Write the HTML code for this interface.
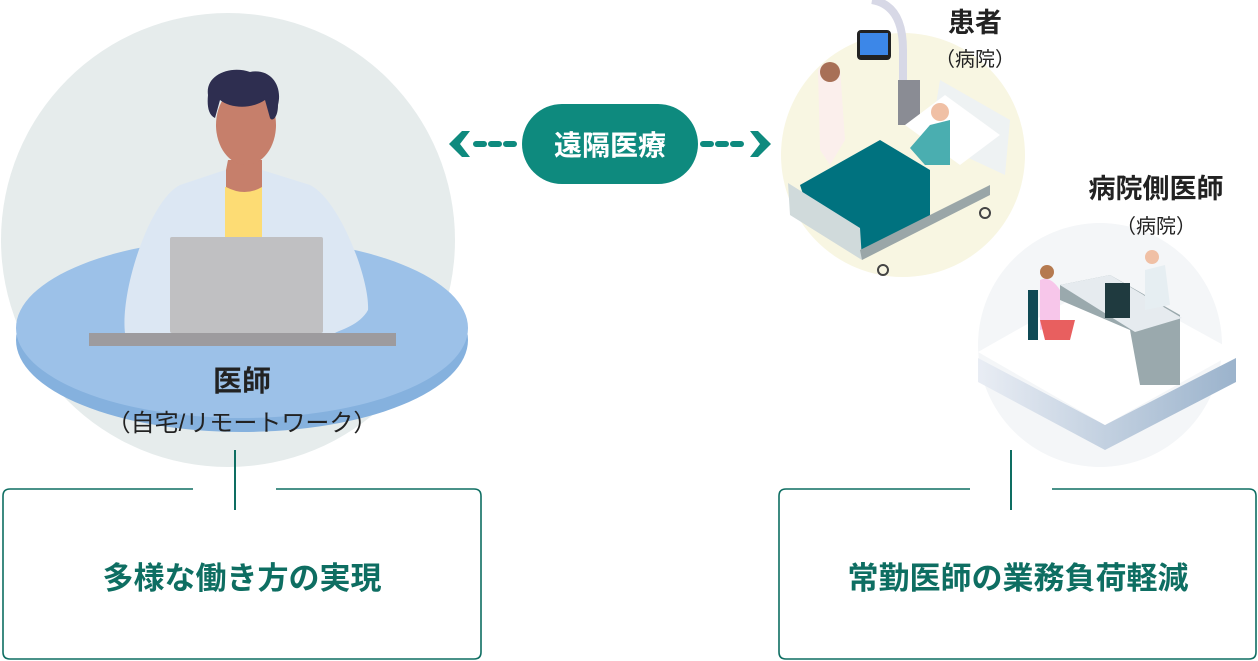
<!DOCTYPE html>
<html><head><meta charset="utf-8"><style>
html,body{margin:0;padding:0;background:#fff;width:1258px;height:661px;overflow:hidden}
svg{display:block}
text{font-family:"Liberation Sans","Noto Sans CJK JP",sans-serif}
</style></head><body>
<svg width="1258" height="661" viewBox="0 0 1258 661" xmlns="http://www.w3.org/2000/svg">
<defs>
<linearGradient id="plat" x1="0" y1="0" x2="1" y2="0"><stop offset="0" stop-color="#e9edf4"/><stop offset="1" stop-color="#9bb3cc"/></linearGradient>
</defs>
<!-- left -->
<circle cx="228" cy="240" r="227" fill="#e6ecec"/>
<ellipse cx="242" cy="340" rx="226" ry="92" fill="#85b1de"/>
<ellipse cx="242" cy="328" rx="226" ry="90" fill="#9cc1e8"/>
<path d="M125 333 C120 290 150 200 180 185 L225 170 L262 170 L310 185 C340 200 370 280 368 310 C360 325 340 330 335 333 Z" fill="#dce7f3"/>
<rect x="225" y="187" width="37" height="52" fill="#fddc74"/>
<path d="M226 170 L228 160 L262 160 L262 187 Q245 197 226 187 Z" fill="#c67f6b"/>
<ellipse cx="246" cy="125" rx="30" ry="40" fill="#c67f6b"/>
<path d="M208 95 C205 75 230 65 250 72 C270 68 283 85 278 105 C278 118 272 122 270 118 L265 100 C250 110 230 108 220 100 L215 118 C208 115 207 105 208 95 Z" fill="#2e2e50"/>
<rect x="170" y="237" width="153" height="96" rx="2" fill="#c0c0c2"/>
<rect x="89" y="333" width="307" height="13" fill="#9d9b9e"/>
<text x="242" y="391" font-size="29" font-weight="bold" text-anchor="middle" fill="#222">医師</text>
<text x="242" y="431" font-size="24" text-anchor="middle" fill="#222">（自宅/リモートワーク）</text>
<!-- connectors / boxes -->
<line x1="235" y1="450" x2="235" y2="510" stroke="#0e6e62" stroke-width="2"/>
<path d="M193 489 H10 Q3 489 3 496 V652 Q3 659 10 659 H474 Q481 659 481 652 V496 Q481 489 474 489 H276" fill="none" stroke="#0e6e62" stroke-width="1.6"/>
<text x="242" y="589" font-size="31" font-weight="bold" text-anchor="middle" fill="#0e6e62">多様な働き方の実現</text>
<line x1="1011" y1="450" x2="1011" y2="510" stroke="#0e6e62" stroke-width="2"/>
<path d="M970 489 H786 Q779 489 779 496 V652 Q779 659 786 659 H1249 Q1256 659 1256 652 V496 Q1256 489 1249 489 H1052" fill="none" stroke="#0e6e62" stroke-width="1.6"/>
<text x="1018" y="589" font-size="31" font-weight="bold" text-anchor="middle" fill="#0e6e62">常勤医師の業務負荷軽減</text>
<!-- pill -->
<line x1="476" y1="144" x2="520" y2="144" stroke="#0e8a7e" stroke-width="6" stroke-dasharray="8 7" stroke-linecap="round"/>
<line x1="703" y1="144" x2="748" y2="144" stroke="#0e8a7e" stroke-width="6" stroke-dasharray="8 7" stroke-linecap="round"/>
<path d="M462 131 L449 144 L462 157 L470 157 L460 144 L470 131 Z" fill="#0e8a7e"/>
<path d="M758 131 L771 144 L758 157 L750 157 L760 144 L750 131 Z" fill="#0e8a7e"/>
<rect x="522" y="104" width="176" height="80" rx="40" fill="#0e8a7e"/>
<text x="610" y="155" font-size="28" font-weight="bold" text-anchor="middle" fill="#fff">遠隔医療</text>
<!-- patient -->
<circle cx="903" cy="155" r="122" fill="#f8f6e2"/>
<path d="M872 0 Q903 5 903 50 V125" fill="none" stroke="#d7d8e6" stroke-width="8"/>
<rect x="898" y="80" width="22" height="45" fill="#8a8c94"/>
<rect x="857" y="30" width="34" height="30" rx="4" fill="#222"/>
<rect x="860" y="33" width="28" height="22" fill="#3c87e8"/>
<path d="M940 80 L1010 120 L1005 175 L930 140 Z" fill="#eef2f3"/>
<path d="M905 125 L945 95 L1000 135 L960 165 Z" fill="#fff"/>
<path d="M910 148 L930 125 L950 120 L950 165 L925 165 Z" fill="#4aaeb0"/>
<circle cx="940" cy="112" r="9" fill="#f0c0a5"/>
<path d="M818 70 Q828 55 840 68 L845 140 L830 165 L820 150 Z" fill="#fbefec"/>
<circle cx="830" cy="72" r="10" fill="#a87056"/>
<path d="M800 185 L880 140 L930 170 L930 220 L860 255 L810 215 Z" fill="#00727f"/>
<path d="M788 183 L860 228 L862 260 L790 215 Z" fill="#d0dadb"/>
<path d="M860 250 L990 185 L990 195 L862 260 Z" fill="#9aa6a8"/>
<circle cx="883" cy="270" r="5" fill="none" stroke="#444" stroke-width="2"/>
<circle cx="985" cy="213" r="5" fill="none" stroke="#444" stroke-width="2"/>
<text x="975" y="32" font-size="27" font-weight="bold" text-anchor="middle" fill="#222">患者</text>
<text x="975" y="66" font-size="20" text-anchor="middle" fill="#222">（病院）</text>
<!-- doctor -->
<circle cx="1100" cy="345" r="122" fill="#f4f6f8"/>
<path d="M978 358 L1105 425 L1236 358 L1236 382 L1105 450 L978 382 Z" fill="url(#plat)"/>
<path d="M978 352 L1105 280 L1236 352 L1105 425 Z" fill="#fff"/>
<path d="M1060 285 L1110 275 L1180 315 L1180 385 L1140 385 L1130 330 L1060 300 Z" fill="#9aa9ad"/>
<path d="M1060 285 L1110 275 L1182 318 L1135 332 Z" fill="#e6ebef"/>
<rect x="1105" y="283" width="25" height="35" fill="#1f3a3f"/>
<path d="M1145 270 L1165 265 L1170 305 L1145 310 Z" fill="#e6eef2"/>
<circle cx="1152" cy="257" r="7" fill="#f0c0a5"/>
<path d="M1040 280 Q1050 275 1060 290 L1060 325 L1040 330 Z" fill="#f7c6ea"/>
<path d="M1040 320 L1075 320 L1070 340 L1045 340 Z" fill="#e85f5f"/>
<rect x="1028" y="290" width="10" height="50" fill="#0f4a55"/>
<circle cx="1047" cy="272" r="7" fill="#b57a50"/>
<text x="1156" y="198" font-size="27" font-weight="bold" text-anchor="middle" fill="#222">病院側医師</text>
<text x="1156" y="233" font-size="20" text-anchor="middle" fill="#222">（病院）</text>
</svg>
</body></html>
